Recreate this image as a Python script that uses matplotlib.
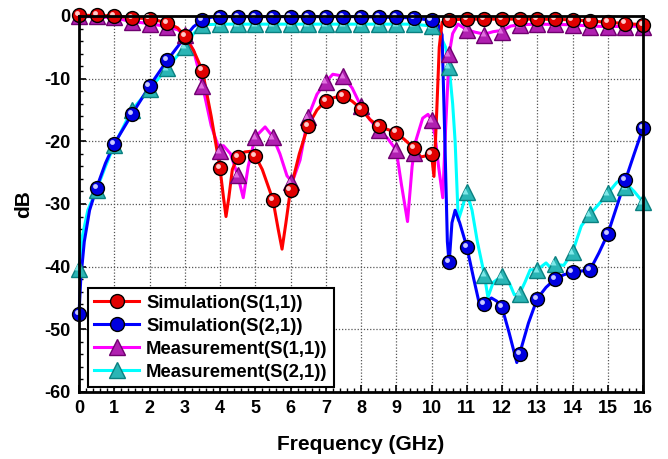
import numpy as np
import matplotlib
matplotlib.use("Agg")
import matplotlib.pyplot as plt
from matplotlib.transforms import ScaledTranslation
from matplotlib.ticker import MultipleLocator

plt.rcParams['font.family'] = ['Liberation Sans', 'DejaVu Sans']
plt.rcParams['font.weight'] = 'bold'
plt.rcParams['axes.unicode_minus'] = False

# ---------------- data ----------------
# Simulation S(1,1) curve
s11_sim_f = [0, 0.5, 1, 1.5, 2, 2.5, 2.8, 3.0, 3.25, 3.5, 3.75, 4.0, 4.1, 4.17, 4.25, 4.35,
             4.5, 4.7, 4.85, 5.0, 5.2, 5.5, 5.65, 5.76, 5.87, 6.0, 6.25, 6.5, 6.75, 7.0,
             7.25, 7.5, 7.75, 8.0, 8.25, 8.5, 8.75, 9.0, 9.25, 9.5, 9.7, 10.0, 10.07,
             10.15, 10.22, 10.3, 10.5, 11, 12, 13, 14, 14.5, 15, 15.5, 16]
s11_sim_db = [0.1, 0.1, 0.0, -0.3, -0.4, -1.1, -1.9, -3.2, -5.5, -8.7, -16.0, -24.3, -29.0,
              -32.0, -29.0, -24.5, -22.5, -21.7, -21.6, -22.3, -24.5, -29.3, -34.0, -37.2,
              -33.0, -27.7, -22.0, -17.5, -15.0, -13.5, -13.0, -12.7, -13.6, -14.8, -16.5,
              -17.6, -18.1, -18.6, -19.8, -21.1, -22.5, -22.1, -25.6, -15.0, -5.0, -1.0,
              -0.6, -0.5, -0.5, -0.5, -0.6, -0.8, -1.0, -1.2, -1.4]

# Simulation S(2,1) curve
s21_sim_f = [0, 0.05, 0.15, 0.3, 0.5, 0.75, 1.0, 1.5, 2.0, 2.5, 3.0, 3.25, 3.5, 3.75, 4.0,
             6.0, 8.0, 9.5, 10.0, 10.2, 10.3, 10.38, 10.45, 10.5, 10.58, 10.67, 10.8, 11.0,
             11.2, 11.38, 11.5, 11.7, 11.85, 12.0, 12.2, 12.42, 12.5, 12.75, 13.0, 13.25,
             13.5, 13.75, 14.0, 14.25, 14.5, 14.75, 15.0, 15.25, 15.5, 15.75, 16.0]
s21_sim_db = [-47.5, -42.0, -36.0, -31.0, -27.4, -23.5, -20.4, -15.7, -11.2, -7.1, -3.4,
              -1.7, -0.7, -0.2, -0.1, -0.1, -0.1, -0.3, -0.7, -1.5, -3.0, -20.0, -36.0,
              -39.5, -33.0, -31.0, -33.0, -36.8, -42.0, -46.5, -45.9, -45.0, -45.5, -46.5,
              -50.5, -55.3, -53.9, -49.0, -45.1, -43.3, -42.0, -41.3, -40.9, -40.7, -40.5,
              -37.8, -34.8, -30.5, -26.2, -22.0, -17.9]

# Measurement S(1,1) curve
s11_meas_f = [0, 0.5, 1, 1.5, 2, 2.5, 2.8, 3.0, 3.25, 3.5, 3.75, 3.95, 4.1, 4.3, 4.5, 4.66,
              4.8, 5.0, 5.28, 5.5, 5.7, 5.9, 6.05, 6.27, 6.5, 6.75, 7.0, 7.2, 7.5, 7.75,
              8.0, 8.25, 8.5, 8.75, 9.0, 9.15, 9.32, 9.45, 9.55, 9.75, 9.9, 10.0, 10.1,
              10.2, 10.32, 10.4, 10.5, 10.6, 10.75, 11.0, 11.25, 11.5, 11.75, 12.0, 12.25,
              12.5, 13.0, 14.0, 14.5, 15.0, 16.0]
s11_meas_db = [-0.1, -0.1, -0.3, -0.9, -1.2, -1.7, -2.2, -3.0, -5.5, -11.0, -17.5, -20.8,
               -20.7, -22.0, -25.4, -29.0, -24.0, -19.3, -17.7, -19.3, -22.0, -25.5, -26.5,
               -23.0, -16.1, -12.5, -10.5, -9.3, -9.6, -11.5, -14.4, -16.5, -18.3, -19.5,
               -21.4, -27.0, -32.8, -24.0, -20.0, -16.3, -15.7, -16.6, -19.0, -24.0, -29.0,
               -18.0, -6.1, -2.8, -1.3, -2.2, -2.6, -2.9, -2.5, -2.3, -1.6, -1.4, -1.3,
               -1.4, -1.6, -1.7, -1.6]

# Measurement S(2,1) curve
s21_meas_f = [0, 0.1, 0.25, 0.5, 0.75, 1.0, 1.5, 2.0, 2.5, 3.0, 3.25, 3.5, 4.0, 6.0, 8.0,
              9.5, 10.0, 10.2, 10.4, 10.5, 10.6, 10.67, 10.76, 10.85, 11.0, 11.15, 11.3,
              11.5, 11.6, 11.75, 12.0, 12.2, 12.35, 12.5, 12.65, 12.8, 13.0, 13.25, 13.4,
              13.5, 13.75, 14.0, 14.25, 14.5, 14.75, 15.0, 15.25, 15.4, 15.5, 15.75, 16.0]
s21_meas_db = [-40.3, -35.0, -31.0, -27.7, -24.0, -20.6, -15.0, -11.7, -8.3, -4.9, -2.8,
               -1.4, -1.3, -1.3, -1.3, -1.3, -1.6, -2.5, -5.0, -8.1, -14.0, -20.0, -32.6,
               -31.0, -28.1, -31.0, -36.0, -41.3, -44.9, -42.5, -41.5, -42.5, -44.5, -44.3,
               -42.5, -40.5, -40.5, -39.4, -40.3, -39.6, -39.8, -37.7, -33.5, -31.6, -30.0,
               -28.3, -26.6, -26.0, -26.6, -28.0, -29.7]

# Marker points (every 0.5 GHz)
mk_f = [0, 0.5, 1, 1.5, 2, 2.5, 3, 3.5, 4, 4.5, 5, 5.5, 6, 6.5, 7, 7.5, 8, 8.5, 9, 9.5,
        10, 10.5, 11, 11.5, 12, 12.5, 13, 13.5, 14, 14.5, 15, 15.5, 16]
s11_sim_mk = [0.1, 0.1, 0.0, -0.3, -0.4, -1.1, -3.2, -8.7, -24.3, -22.5, -22.3, -29.3,
              -27.7, -17.5, -13.5, -12.7, -14.8, -17.6, -18.6, -21.1, -22.1, -0.6, -0.5,
              -0.5, -0.5, -0.5, -0.5, -0.5, -0.6, -0.8, -1.0, -1.2, -1.4]
s21_sim_mk = [-47.5, -27.4, -20.4, -15.7, -11.2, -7.1, -3.4, -0.7, -0.1, -0.1, -0.1, -0.1,
              -0.1, -0.1, -0.1, -0.1, -0.1, -0.1, -0.1, -0.3, -0.7, -39.3, -36.8, -45.9,
              -46.5, -53.9, -45.1, -42.0, -40.9, -40.5, -34.8, -26.2, -17.9]
s11_meas_mk = [0.0, 0.0, -0.2, -0.9, -1.2, -1.7, -3.0, -11.2, -21.6, -25.4, -19.3, -19.3,
               -26.5, -16.1, -10.5, -9.6, -14.4, -18.2, -21.4, -21.8, -16.6, -6.1, -2.2,
               -3.0, -2.5, -1.5, -1.3, -1.3, -1.4, -1.7, -1.8, -1.8, -1.7]
s21_meas_mk = [-40.3, -27.7, -20.6, -15.0, -11.7, -8.3, -4.9, -1.4, -1.3, -1.3, -1.3, -1.3,
               -1.3, -1.3, -1.3, -1.3, -1.3, -1.3, -1.3, -1.3, -1.6, -8.1, -28.1, -41.3,
               -41.5, -44.3, -40.6, -39.5, -37.7, -31.6, -28.3, -27.3, -29.7]

labels = ["Simulation(S(1,1))", "Simulation(S(2,1))",
          "Measurement(S(1,1))", "Measurement(S(2,1))"]

# ---------------- figure ----------------
fig = plt.figure(figsize=(6.68, 4.59), dpi=100)
ax = fig.add_axes([79/668, 1-392/459, (643-79)/668, (392-16)/459])

def shifted(dx, dy):
    return ax.transData + ScaledTranslation(dx/72, dy/72, fig.dpi_scale_trans)

# curves
ax.plot(s21_meas_f, s21_meas_db, color='#00ffff', lw=2.2, zorder=3, clip_on=False)
ax.plot(s11_meas_f, s11_meas_db, color='#ff00ff', lw=2.2, zorder=3, clip_on=False)
ax.plot(s21_sim_f, s21_sim_db, color='#0000ff', lw=2.2, zorder=4, clip_on=False)
ax.plot(s11_sim_f, s11_sim_db, color='#ff0000', lw=2.2, zorder=4, clip_on=False)

# triangle markers
ax.plot(mk_f, s21_meas_mk, ls='none', marker='^', ms=11, mfc='#2ab5b5', mec='#0a8080',
        mew=1.0, zorder=5, clip_on=False)
ax.plot(mk_f, s21_meas_mk, ls='none', marker='^', ms=5, mfc='#7fe8e8', mec='none',
        zorder=5.1, clip_on=False, transform=shifted(-1.2, 1.0))
ax.plot(mk_f, s11_meas_mk, ls='none', marker='^', ms=11, mfc='#b020b0', mec='#700070',
        mew=1.0, zorder=5, clip_on=False)
ax.plot(mk_f, s11_meas_mk, ls='none', marker='^', ms=5, mfc='#e070e0', mec='none',
        zorder=5.1, clip_on=False, transform=shifted(-1.2, 1.0))

# sphere markers
ax.plot(mk_f, s21_sim_mk, ls='none', marker='o', ms=10, mfc='#0000e0', mec='black',
        mew=1.0, zorder=6, clip_on=False)
ax.plot(mk_f, s21_sim_mk, ls='none', marker='o', ms=3.5, mfc='#c8c8ff', mec='none',
        zorder=6.1, clip_on=False, transform=shifted(-1.5, 1.5))
ax.plot(mk_f, s11_sim_mk, ls='none', marker='o', ms=10, mfc='#e00000', mec='black',
        mew=1.0, zorder=7, clip_on=False)
ax.plot(mk_f, s11_sim_mk, ls='none', marker='o', ms=3.5, mfc='#ffc8c8', mec='none',
        zorder=7.1, clip_on=False, transform=shifted(-1.5, 1.5))

# legend proxies
h1, = ax.plot([], [], color='#ff0000', lw=2.2, marker='o', ms=10, mfc='#e00000', mec='black')
h2, = ax.plot([], [], color='#0000ff', lw=2.2, marker='o', ms=10, mfc='#0000e0', mec='black')
h3, = ax.plot([], [], color='#ff00ff', lw=2.2, marker='^', ms=11, mfc='#b020b0', mec='#700070')
h4, = ax.plot([], [], color='#00ffff', lw=2.2, marker='^', ms=11, mfc='#2ab5b5', mec='#0a8080')
leg = ax.legend([h1, h2, h3, h4], labels, loc='lower left', bbox_to_anchor=(0.016, 0.013),
                borderaxespad=0, frameon=True, fancybox=False, framealpha=1,
                edgecolor='black', prop={'weight': 'bold', 'size': 13.3},
                handlelength=2.4, handletextpad=0.4, labelspacing=0.32, borderpad=0.35)
leg.get_frame().set_linewidth(1.5)
leg.set_zorder(10)

# axes styling
ax.set_xlim(0, 16)
ax.set_ylim(-60, 0)
ax.xaxis.set_major_locator(MultipleLocator(1))
ax.xaxis.set_minor_locator(MultipleLocator(0.2))
ax.yaxis.set_major_locator(MultipleLocator(10))
ax.yaxis.set_minor_locator(MultipleLocator(2))
ax.grid(True, which='major', color='#555555', linestyle=(0, (1, 1.5)), lw=0.9)
ax.set_axisbelow(True)
ax.tick_params(which='both', direction='in', top=False, right=False)
ax.tick_params(which='major', length=5, width=1.2, labelsize=13, pad=6)
ax.tick_params(which='minor', length=3, width=1.0)
for lab in ax.get_xticklabels() + ax.get_yticklabels():
    lab.set_fontweight('bold')
for sp in ax.spines.values():
    sp.set_linewidth(2)
    sp.set_zorder(8)

ax.set_xlabel('Frequency (GHz)', fontsize=15, fontweight='bold', labelpad=13)
ax.set_ylabel('dB', fontsize=15, fontweight='bold', labelpad=8)

fig.savefig('out.png', dpi=100)
